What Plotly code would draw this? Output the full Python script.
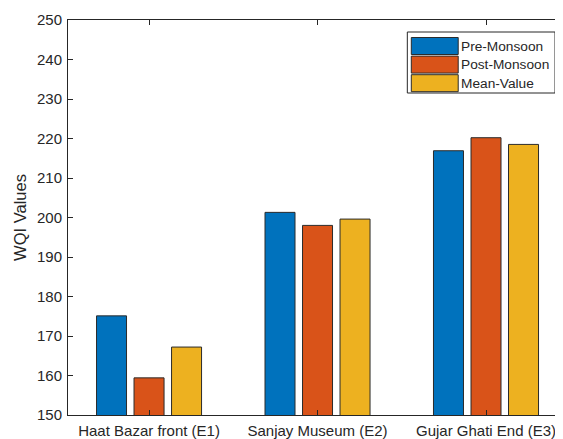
import plotly.graph_objects as go

categories = ["Haat Bazar front (E1)", "Sanjay Museum (E2)", "Gujar Ghati End (E3)"]
series_names = ["Pre-Monsoon", "Post-Monsoon", "Mean-Value"]
pre_monsoon = [175.1, 201.3, 216.9]
post_monsoon = [159.4, 198.0, 220.2]
mean_value = [167.2, 199.6, 218.5]
y_ticks = [150, 160, 170, 180, 190, 200, 210, 220, 230, 240, 250]

colors = ["#0072BD", "#D95319", "#EDB120"]
values = [pre_monsoon, post_monsoon, mean_value]
FONT = "Liberation Sans, Arial, sans-serif"
TXT = "#262626"

fig = go.Figure()
for name, vals, col in zip(series_names, values, colors):
    fig.add_trace(go.Bar(
        x=categories, y=vals, name=name,
        marker=dict(color=col, line=dict(color="#2b2b2b", width=1)),
        showlegend=False,
    ))

# The page body has an 8px margin, so the figure is drawn 8px in from the corner.
OFF = 8
W, H = 563 - OFF, 439 - OFF
# target plot area in window pixels: left 68, top 20, bottom 415, right 564
L, T = 68 - OFF, 20 - OFF
B = 439 - 415
R = 0
pw, ph = 563 - 68 + 1, 415 - 20

def px_x(px):
    return (px - 68) / pw

def px_y(py):
    return (415 - py) / ph

shapes = [dict(type="rect", xref="paper", yref="paper",
               x0=px_x(408), x1=px_x(556), y0=px_y(93), y1=px_y(32),
               line=dict(color="#262626", width=1), fillcolor="white", layer="above")]
annotations = []
row_top = 37.5
row_h = 18.6
for i, (name, col) in enumerate(zip(series_names, colors)):
    y0 = row_top + i * row_h
    shapes.append(dict(type="rect", xref="paper", yref="paper",
                       x0=px_x(412), x1=px_x(459), y0=px_y(y0 + 17), y1=px_y(y0),
                       line=dict(color="#2b2b2b", width=1), fillcolor=col, layer="above"))
    annotations.append(dict(xref="paper", yref="paper", x=px_x(460), y=px_y(y0 + 8.5),
                            text=name, showarrow=False, xanchor="left", yanchor="middle",
                            font=dict(family=FONT, size=13.7, color=TXT)))

fig.update_layout(
    width=W, height=H,
    margin=dict(l=L, r=R, t=T, b=B, pad=0),
    paper_bgcolor="white", plot_bgcolor="white",
    barmode="group", bargap=0.332, bargroupgap=0.2,
    font=dict(family=FONT, size=15, color=TXT),
    shapes=shapes, annotations=annotations,
    showlegend=False,
)
fig.update_xaxes(
    range=[-0.481, 2.457], showline=True, linecolor="#262626", linewidth=1,
    mirror="ticks", ticks="inside", ticklen=5, tickcolor="#262626",
    showgrid=False, tickfont=dict(family=FONT, size=15, color=TXT),
    ticklabelstandoff=2,
)
fig.update_yaxes(
    range=[150, 250], tickvals=y_ticks, showline=True, linecolor="#262626", linewidth=1,
    mirror="ticks", ticks="inside", ticklen=5, tickcolor="#262626",
    showgrid=False, zeroline=False, tickfont=dict(family=FONT, size=15, color=TXT),
    ticklabelstandoff=2,
    title=dict(text="WQI Values", font=dict(family=FONT, size=16.5, color=TXT), standoff=6),
)

fig.write_html("out.html")
